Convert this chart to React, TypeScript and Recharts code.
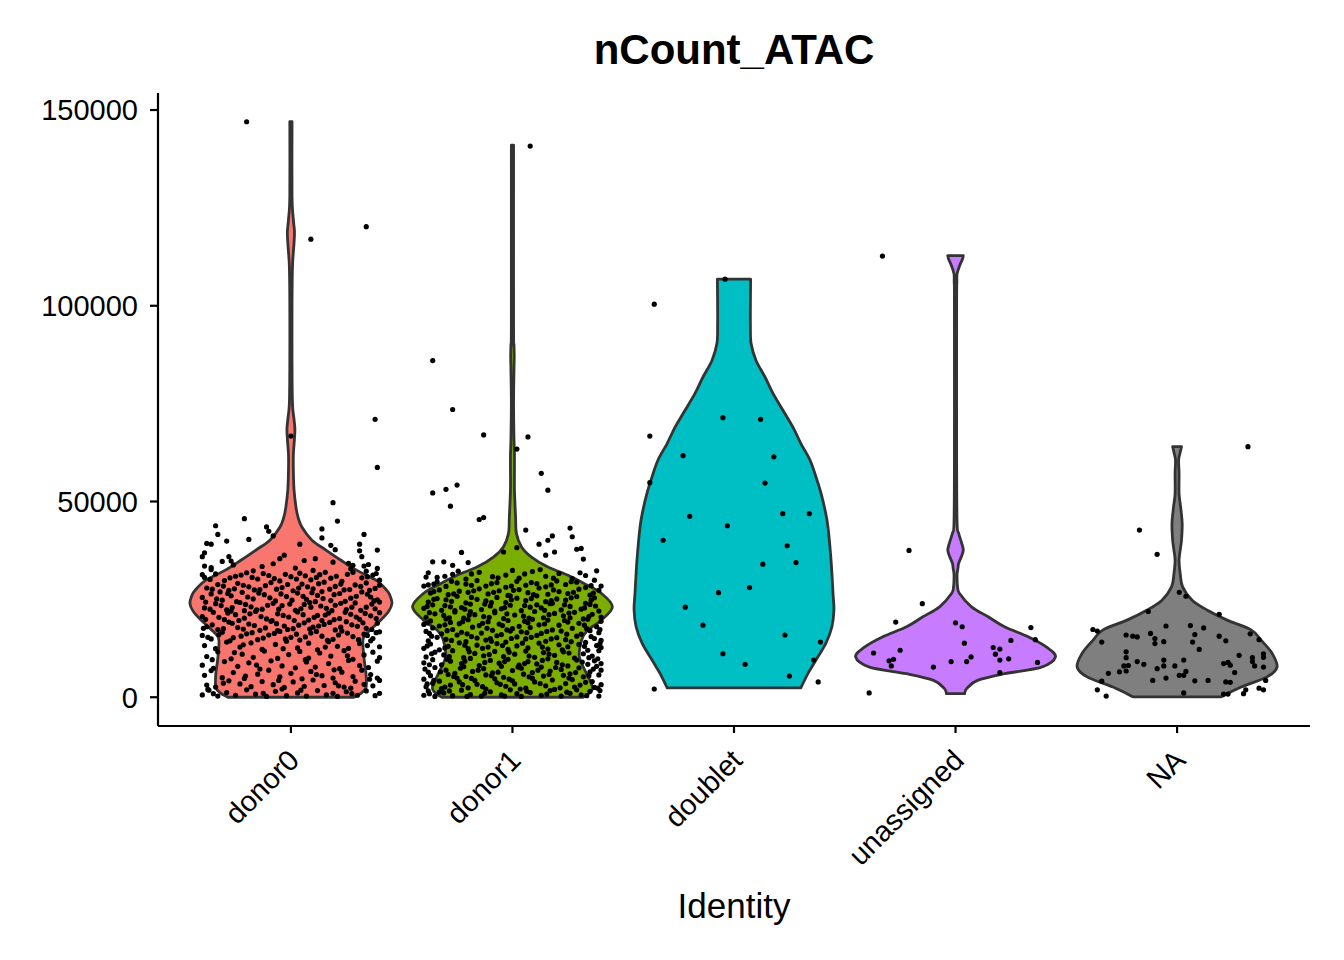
import React from "react";
import { ScatterChart, Scatter, XAxis, YAxis } from "recharts";

const identities = ["donor0", "donor1", "doublet", "unassigned", "NA"];
const fills = ["#F8766D", "#7CAE00", "#00BFC4", "#C77CFF", "#7F7F7F"];
const yTicks = [0, 50000, 100000, 150000];

// violin outlines: [nCount_ATAC in thousands, half width in category units]
const donor0Violin = [
  [0, 0.284], [1, 0.316], [2.5, 0.339], [6, 0.339], [10, 0.33], [14.6, 0.325],
  [16.4, 0.343], [19.7, 0.406], [22, 0.442], [24, 0.456], [26, 0.447], [27.3, 0.433],
  [29.9, 0.384], [32.4, 0.298], [35, 0.226], [37.6, 0.158], [40.1, 0.095], [43.4, 0.05],
  [46, 0.032], [48.5, 0.023], [53, 0.014], [58, 0.011], [62, 0.011], [66, 0.016],
  [68.5, 0.018], [71, 0.014], [75, 0.007], [85, 0.005], [100, 0.005], [110, 0.007],
  [116, 0.014], [119, 0.016], [122, 0.011], [128, 0.005], [147, 0.005],
];
const donor1Violin = [
  [0, 0.32], [1.2, 0.35], [2.6, 0.361], [6.1, 0.334], [10.3, 0.302], [14.6, 0.312],
  [17.1, 0.339], [19.7, 0.402], [23.1, 0.451], [26.5, 0.402], [29, 0.325], [31.2, 0.248],
  [33.3, 0.158], [35.8, 0.086], [38.4, 0.041], [41.8, 0.018], [46.1, 0.014], [52.9, 0.009],
  [58, 0.009], [62, 0.009], [65.7, 0.007], [75, 0.005], [84, 0.007], [87, 0.008],
  [90, 0.007], [95, 0.005], [141, 0.005],
];
const doubletViolin = [
  [2.4, 0.302], [6.1, 0.334], [9.5, 0.37], [13.8, 0.415], [18, 0.442], [22.3, 0.451],
  [26.5, 0.447], [35, 0.438], [43.5, 0.424], [47.8, 0.411], [52.1, 0.393], [56.3, 0.37],
  [60.6, 0.343], [64.8, 0.302], [69, 0.266], [73.3, 0.221], [77.6, 0.176], [81.8, 0.14],
  [86.1, 0.099], [90.4, 0.077], [95, 0.074], [100, 0.074], [106.8, 0.075],
];
const unassignedViolin = [
  [0.9, 0.041], [2.2, 0.05], [4.3, 0.099], [6, 0.221], [7.7, 0.388], [10.3, 0.451],
  [12.8, 0.411], [15.4, 0.33], [18, 0.221], [20.5, 0.149], [23.1, 0.072], [26.5, 0.018],
  [28.2, 0.009], [30, 0.007], [31.6, 0.007], [33, 0.011], [34.2, 0.014], [36, 0.027],
  [37.6, 0.035], [39.5, 0.027], [41.9, 0.014], [44.4, 0.007], [60, 0.005], [100, 0.005],
  [106, 0.006], [108.2, 0.007], [110.5, 0.02], [112, 0.032], [112.8, 0.035],
];
const naViolin = [
  [0.1, 0.199], [2.6, 0.289], [5.2, 0.406], [7.7, 0.451], [11.2, 0.429], [14.6, 0.379],
  [17.2, 0.334], [19.7, 0.226], [22.3, 0.135], [24.8, 0.068], [28.2, 0.025], [31.6, 0.014],
  [35, 0.009], [37.5, 0.014], [40.1, 0.02], [44.4, 0.023], [48.6, 0.016], [52, 0.009],
  [57.2, 0.009], [60.6, 0.007], [62.5, 0.014], [64, 0.02],
];

// cells: [horizontal jitter in category units, nCount_ATAC in thousands]
const donor0Cells = [
  [-0.2, 147.0], [0.09, 117.0], [0.34, 120.2], [0.38, 71.0], [0.0, 66.7], [0.39, 58.7],
  [0.19, 49.7], [0.21, 45.0], [-0.21, 45.6], [-0.34, 43.8], [-0.33, 41.6], [-0.29, 39.9],
  [-0.19, 40.3], [-0.11, 43.5], [-0.1, 42.4], [-0.08, 41.2], [0.14, 43.0], [0.14, 40.7],
  [0.18, 38.8], [0.2, 37.7], [0.04, 39.1], [0.33, 41.6], [0.31, 39.1], [0.39, 37.6],
  [0.31, 37.4], [0.32, 35.9], [0.39, 32.9], [-0.38, 39.3], [-0.36, 39.1], [-0.4, 35.9],
  [-0.39, 36.9], [-0.28, 35.9], [-0.27, 34.8], [-0.39, 33.5], [-0.36, 33.1], [-0.4, 31.3],
  [-0.03, 36.3], [-0.05, 35.4], [0.11, 35.4], [0.26, 34.2], [0.28, 33.7], [0.33, 33.5],
  [0.34, 32.2],
  [-0.4, 0.6], [-0.37, 1.8], [-0.33, 0.3], [-0.29, 1.2], [-0.25, 0.5], [-0.2, 1.9],
  [-0.16, 0.8], [-0.11, 0.2], [-0.07, 1.5], [-0.02, 0.4], [0.03, 1.1], [0.07, 0.3],
  [0.12, 1.7], [0.16, 0.6], [0.21, 0.2], [0.25, 1.4], [0.3, 0.5], [0.34, 1.6],
  [0.38, 0.4], [0.4, 1.0], [-0.35, 0.9], [0.19, 1.0], [-0.04, 2.1], [0.27, 2.3],
  [-0.38, 3.1], [-0.34, 2.6], [-0.28, 4.2], [-0.23, 3.4], [-0.18, 2.7], [-0.13, 4.0],
  [-0.08, 3.2], [-0.03, 2.5], [0.01, 3.9], [0.06, 2.8], [0.1, 4.4], [0.15, 3.0],
  [0.2, 3.7], [0.24, 2.6], [0.29, 4.1], [0.33, 3.3], [0.37, 2.9], [0.4, 4.3],
  [-0.39, 5.6], [-0.36, 6.8], [-0.31, 5.0], [-0.26, 6.3], [-0.21, 4.8], [-0.15, 5.9],
  [-0.1, 6.9], [-0.05, 5.2], [0.0, 6.1], [0.05, 4.7], [0.09, 6.6], [0.14, 5.5],
  [0.19, 4.9], [0.23, 6.4], [0.28, 5.3], [0.32, 6.9], [0.36, 5.8], [0.39, 4.9],
  [-0.4, 8.2], [-0.35, 7.4], [-0.3, 9.1], [-0.24, 7.9], [-0.19, 8.8], [-0.14, 7.2],
  [-0.09, 9.3], [-0.04, 8.0], [0.02, 7.5], [0.07, 9.0], [0.11, 7.7], [0.17, 8.6],
  [0.22, 7.3], [0.26, 9.4], [0.31, 8.1], [0.35, 7.6], [0.39, 9.2],
  [-0.38, 10.4], [-0.33, 11.6], [-0.27, 9.8], [-0.22, 11.0], [-0.17, 10.2], [-0.12, 11.8],
  [-0.06, 9.9], [-0.01, 10.9], [0.04, 11.7], [0.08, 10.0], [0.13, 11.3], [0.18, 10.5],
  [0.24, 11.9], [0.28, 9.7], [0.33, 10.8], [0.37, 11.5], [0.4, 10.1],
  [-0.39, 13.2], [-0.34, 12.4], [-0.29, 14.1], [-0.23, 12.8], [-0.18, 13.9], [-0.13, 12.2],
  [-0.07, 13.5], [-0.02, 14.3], [0.03, 12.6], [0.08, 13.8], [0.12, 12.1], [0.17, 14.2],
  [0.21, 13.0], [0.26, 12.5], [0.31, 13.7], [0.36, 14.4], [0.4, 12.9],
  [-0.4, 15.8], [-0.36, 14.9], [-0.31, 16.6], [-0.26, 15.2], [-0.2, 16.2], [-0.15, 14.7],
  [-0.1, 15.9], [-0.05, 16.8], [0.0, 15.3], [0.04, 14.6], [0.09, 16.4], [0.14, 15.6],
  [0.19, 14.8], [0.23, 16.9], [0.28, 15.5], [0.33, 16.1], [0.37, 15.0], [0.4, 16.7],
  [-0.38, 18.0], [-0.33, 17.3], [-0.28, 19.2], [-0.24, 17.8], [-0.19, 18.7], [-0.14, 17.1],
  [-0.09, 19.4], [-0.03, 18.2], [0.01, 17.5], [0.06, 19.0], [0.1, 17.9], [0.15, 18.6],
  [0.2, 17.2], [0.25, 19.3], [0.3, 18.1], [0.34, 17.6], [0.39, 18.9], [-0.06, 17.0],
  [-0.4, 20.6], [-0.35, 21.7], [-0.3, 19.8], [-0.25, 21.1], [-0.21, 20.2], [-0.16, 21.9],
  [-0.11, 20.0], [-0.06, 21.3], [-0.01, 20.5], [0.03, 21.8], [0.08, 19.7], [0.12, 20.9],
  [0.17, 21.5], [0.22, 20.1], [0.27, 21.2], [0.31, 19.9], [0.36, 20.8], [0.4, 21.6],
  [0.14, 19.6], [-0.27, 22.0],
  [-0.39, 22.8], [-0.34, 23.9], [-0.29, 22.3], [-0.23, 24.2], [-0.18, 23.1], [-0.13, 22.5],
  [-0.08, 24.0], [-0.04, 23.4], [0.02, 22.2], [0.06, 23.7], [0.11, 24.4], [0.16, 22.7],
  [0.2, 23.5], [0.25, 22.4], [0.29, 24.1], [0.34, 23.0], [0.38, 22.6], [0.4, 24.3],
  [-0.21, 22.1], [0.09, 23.0],
  [-0.4, 25.5], [-0.36, 26.4], [-0.31, 24.8], [-0.27, 25.9], [-0.22, 26.8], [-0.17, 25.1],
  [-0.12, 26.2], [-0.07, 24.6], [-0.02, 25.7], [0.03, 26.6], [0.07, 25.0], [0.12, 26.0],
  [0.18, 24.7], [0.22, 26.5], [0.27, 25.3], [0.32, 26.9], [0.36, 25.6], [0.39, 24.9],
  [-0.32, 26.9], [0.14, 27.0],
  [-0.38, 27.9], [-0.33, 28.8], [-0.28, 27.3], [-0.24, 29.1], [-0.19, 28.2], [-0.14, 27.5],
  [-0.09, 29.3], [-0.04, 28.0], [0.01, 27.2], [0.05, 28.9], [0.1, 27.7], [0.15, 29.4],
  [0.2, 28.3], [0.24, 27.4], [0.29, 28.7], [0.34, 29.2], [0.38, 27.8], [0.4, 28.6],
  [-0.39, 30.6], [-0.34, 31.5], [-0.3, 29.8], [-0.25, 30.9], [-0.2, 31.8], [-0.15, 30.2],
  [-0.1, 31.1], [-0.05, 29.7], [0.0, 30.8], [0.04, 31.7], [0.09, 30.0], [0.13, 31.3],
  [0.18, 30.4], [0.23, 29.6], [0.28, 31.9], [0.32, 30.5], [0.37, 31.2], [0.4, 29.9],
  [-0.36, 32.6], [-0.26, 33.8], [-0.17, 32.3], [-0.08, 34.1], [0.02, 33.0], [0.1, 32.4],
  [0.19, 34.5], [0.27, 32.8], [0.35, 33.9], [-0.31, 34.7], [0.06, 34.9], [-0.13, 33.4],
  [-0.375, 15.3], [-0.325, 16.0], [-0.275, 14.4], [-0.225, 15.6], [-0.175, 16.5], [-0.125, 15.1],
  [-0.075, 16.3], [-0.025, 14.9], [0.025, 16.1], [0.065, 15.4], [0.115, 16.8], [0.165, 14.5],
  [0.215, 15.9], [0.255, 16.4], [0.305, 14.7], [0.345, 15.8], [0.385, 16.5],
  [-0.395, 17.6], [-0.355, 18.5], [-0.305, 17.5], [-0.265, 18.9], [-0.215, 17.4], [-0.165, 18.3],
  [-0.115, 17.7], [-0.065, 18.8], [-0.015, 17.3], [0.035, 18.4], [0.085, 17.4], [0.125, 18.2],
  [0.175, 19.1], [0.225, 17.9], [0.275, 18.5], [0.325, 19.0], [0.365, 17.3],
  [-0.385, 19.9], [-0.325, 20.4], [-0.285, 21.5], [-0.235, 19.6], [-0.185, 21.3], [-0.135, 20.6],
  [-0.085, 19.6], [-0.035, 20.9], [0.015, 19.6], [0.055, 21.1], [0.105, 20.4], [0.155, 21.0],
  [0.195, 19.8], [0.245, 21.7], [0.295, 20.5], [0.335, 21.4], [0.385, 20.1],
  [-0.365, 22.5], [-0.315, 23.4], [-0.265, 22.9], [-0.205, 23.7], [-0.155, 22.3], [-0.105, 23.5],
  [-0.055, 22.5], [-0.005, 23.8], [0.045, 22.6], [0.085, 24.2], [0.135, 23.3], [0.185, 22.1],
  [0.225, 24.0], [0.275, 23.0], [0.315, 22.2], [0.365, 23.8],
  [-0.385, 24.3], [-0.335, 25.1], [-0.285, 26.5], [-0.245, 24.4], [-0.195, 25.6], [-0.145, 26.6],
  [-0.095, 25.4], [-0.045, 26.4], [0.005, 24.8], [0.055, 25.8], [0.095, 26.7], [0.145, 25.2],
  [0.195, 26.2], [0.245, 24.5], [0.295, 25.8], [0.345, 26.3], [0.375, 24.6],
  [-0.355, 27.6], [-0.305, 28.4], [-0.255, 27.7], [-0.215, 28.6], [-0.165, 27.4], [-0.115, 28.5],
  [-0.065, 27.6], [-0.015, 28.8], [0.035, 27.9], [0.075, 28.2], [0.125, 29.0], [0.175, 27.6],
  [0.225, 28.9], [0.265, 27.5], [0.315, 28.3], [0.355, 27.3],
  [-0.365, 30.1], [-0.275, 30.5], [-0.225, 31.2], [-0.175, 30.6], [-0.125, 31.6], [-0.075, 30.3],
  [-0.025, 31.4], [0.025, 30.2], [0.065, 31.0], [0.115, 30.6], [0.155, 31.9], [0.205, 30.9],
  [0.255, 31.4], [0.345, 30.8], [0.385, 31.6],
  [-0.375, 2.0], [-0.305, 3.6], [-0.205, 5.4], [-0.125, 1.0], [-0.055, 4.3], [0.045, 1.8],
  [0.115, 5.8], [0.215, 2.9], [0.275, 0.9], [0.355, 4.6],
  [-0.355, 9.6], [-0.255, 11.4], [-0.155, 8.2], [-0.035, 12.4], [0.065, 9.6], [0.155, 12.8],
  [0.255, 10.6], [0.345, 13.2], [-0.215, 13.4], [0.195, 7.0],
];
const donor1Cells = [
  [0.08, 140.8], [-0.36, 86.0], [-0.27, 73.5], [-0.13, 67.0], [0.07, 66.5], [0.02, 63.4],
  [0.13, 57.2], [0.16, 52.9], [-0.36, 52.2], [-0.3, 53.1], [-0.25, 54.2], [-0.28, 48.8],
  [-0.15, 45.4], [-0.13, 45.9], [0.06, 42.7], [0.18, 41.2], [0.16, 40.1], [0.12, 39.1],
  [0.26, 43.2], [0.27, 41.0], [0.29, 37.8], [0.31, 38.0], [0.32, 35.3], [-0.23, 37.0],
  [-0.2, 34.4], [-0.36, 34.6], [-0.31, 34.6], [-0.27, 33.7], [0.19, 37.1], [0.15, 36.3],
  [0.02, 38.2], [-0.04, 37.1], [0.4, 28.4], [-0.39, 30.7], [-0.4, 28.4],
  [-0.4, 0.5], [-0.38, 1.6], [-0.35, 0.2], [-0.31, 1.1], [-0.27, 0.4], [-0.23, 1.8],
  [-0.19, 0.7], [-0.14, 0.3], [-0.1, 1.4], [-0.05, 0.6], [-0.01, 1.9], [0.04, 0.2],
  [0.08, 1.2], [0.13, 0.5], [0.17, 1.7], [0.22, 0.3], [0.26, 1.0], [0.31, 0.6],
  [0.35, 1.5], [0.39, 0.3], [-0.33, 1.3], [0.02, 0.9], [0.29, 1.9],
  [-0.39, 2.7], [-0.36, 3.6], [-0.32, 2.2], [-0.28, 3.1], [-0.24, 3.9], [-0.2, 2.4],
  [-0.16, 3.3], [-0.12, 2.1], [-0.07, 3.7], [-0.03, 2.8], [0.01, 3.4], [0.06, 2.3],
  [0.1, 3.9], [0.15, 2.9], [0.19, 2.0], [0.24, 3.5], [0.28, 2.6], [0.33, 3.8],
  [0.37, 2.5], [0.4, 3.2],
  [-0.4, 4.6], [-0.37, 5.5], [-0.33, 4.1], [-0.29, 5.8], [-0.25, 4.9], [-0.21, 5.3],
  [-0.17, 4.3], [-0.12, 5.7], [-0.08, 4.7], [-0.04, 5.1], [0.0, 4.2], [0.05, 5.9],
  [0.09, 4.8], [0.14, 5.4], [0.18, 4.4], [0.23, 5.6], [0.27, 4.5], [0.32, 5.2],
  [0.36, 4.0], [0.39, 5.7],
  [-0.38, 6.4], [-0.35, 7.6], [-0.3, 6.9], [-0.26, 6.1], [-0.22, 7.8], [-0.18, 6.6],
  [-0.13, 7.3], [-0.09, 6.2], [-0.05, 7.9], [0.0, 6.8], [0.04, 7.4], [0.09, 6.3],
  [0.13, 7.7], [0.17, 6.7], [0.22, 7.1], [0.26, 6.0], [0.3, 7.5], [0.35, 6.5],
  [0.38, 7.9], [0.4, 6.9],
  [-0.4, 8.8], [-0.36, 9.6], [-0.32, 8.3], [-0.28, 9.2], [-0.23, 8.6], [-0.19, 9.9],
  [-0.15, 8.1], [-0.1, 9.4], [-0.06, 8.7], [-0.02, 9.7], [0.03, 8.2], [0.07, 9.1],
  [0.11, 8.5], [0.16, 9.8], [0.2, 8.9], [0.25, 8.0], [0.29, 9.5], [0.34, 8.4],
  [0.37, 9.3], [0.4, 8.6],
  [-0.39, 10.3], [-0.35, 11.5], [-0.31, 10.8], [-0.27, 11.9], [-0.22, 10.1], [-0.17, 11.2],
  [-0.13, 10.6], [-0.08, 11.7], [-0.04, 10.4], [0.01, 11.0], [0.06, 11.8], [0.1, 10.2],
  [0.14, 11.4], [0.19, 10.7], [0.23, 11.6], [0.28, 10.0], [0.32, 11.1], [0.36, 10.5],
  [0.39, 11.9],
  [-0.4, 12.5], [-0.37, 13.6], [-0.33, 12.1], [-0.29, 13.0], [-0.24, 13.9], [-0.2, 12.4],
  [-0.16, 13.3], [-0.11, 12.8], [-0.07, 13.7], [-0.02, 12.2], [0.02, 13.1], [0.07, 12.6],
  [0.12, 13.8], [0.16, 12.3], [0.21, 13.4], [0.25, 12.9], [0.3, 13.5], [0.34, 12.0],
  [0.38, 13.2], [0.4, 12.7],
  [-0.38, 14.4], [-0.34, 15.3], [-0.3, 14.8], [-0.25, 15.9], [-0.21, 14.2], [-0.16, 15.1],
  [-0.12, 14.6], [-0.07, 15.7], [-0.03, 14.1], [0.02, 15.4], [0.06, 14.9], [0.11, 15.8],
  [0.15, 14.3], [0.2, 15.2], [0.24, 14.7], [0.29, 15.6], [0.33, 14.0], [0.37, 15.0],
  [0.4, 14.5], [-0.1, 15.0],
  [-0.39, 16.8], [-0.36, 17.7], [-0.32, 16.2], [-0.27, 17.3], [-0.23, 16.6], [-0.18, 17.9],
  [-0.14, 16.4], [-0.09, 17.1], [-0.05, 16.0], [0.0, 17.5], [0.04, 16.7], [0.08, 17.8],
  [0.13, 16.3], [0.18, 17.2], [0.22, 16.9], [0.27, 17.6], [0.31, 16.1], [0.35, 17.0],
  [0.39, 16.5], [-0.01, 16.9],
  [-0.4, 18.6], [-0.37, 19.5], [-0.33, 18.2], [-0.28, 19.1], [-0.24, 18.8], [-0.2, 19.8],
  [-0.15, 18.3], [-0.11, 19.3], [-0.06, 18.7], [-0.02, 19.6], [0.03, 18.1], [0.07, 19.0],
  [0.12, 18.5], [0.16, 19.7], [0.21, 18.4], [0.25, 19.2], [0.3, 18.9], [0.34, 19.9],
  [0.38, 18.0], [0.4, 19.4], [-0.3, 20.0], [0.09, 19.9],
  [-0.39, 20.4], [-0.35, 21.3], [-0.31, 20.9], [-0.26, 21.8], [-0.22, 20.2], [-0.17, 21.1],
  [-0.13, 20.6], [-0.08, 21.6], [-0.04, 20.1], [0.01, 21.0], [0.05, 20.7], [0.1, 21.9],
  [0.14, 20.3], [0.19, 21.4], [0.23, 20.8], [0.28, 21.7], [0.32, 20.0], [0.36, 21.2],
  [0.4, 20.5], [-0.19, 21.9], [0.26, 20.3],
  [-0.4, 22.7], [-0.36, 23.6], [-0.32, 22.2], [-0.28, 23.1], [-0.23, 22.9], [-0.19, 23.8],
  [-0.14, 22.4], [-0.1, 23.3], [-0.05, 22.6], [-0.01, 23.5], [0.04, 22.1], [0.08, 23.0],
  [0.13, 22.8], [0.17, 23.9], [0.22, 22.3], [0.26, 23.2], [0.31, 22.5], [0.35, 23.7],
  [0.39, 22.0], [-0.26, 22.1], [0.11, 23.6], [-0.08, 22.0],
  [-0.38, 24.3], [-0.34, 25.2], [-0.3, 24.9], [-0.25, 25.8], [-0.21, 24.1], [-0.16, 25.0],
  [-0.12, 24.6], [-0.07, 25.5], [-0.03, 24.2], [0.02, 25.3], [0.06, 24.7], [0.11, 25.9],
  [0.15, 24.4], [0.2, 25.1], [0.24, 24.8], [0.29, 25.7], [0.33, 24.0], [0.37, 25.4],
  [-0.01, 25.9], [0.18, 24.0],
  [-0.37, 26.6], [-0.33, 27.4], [-0.29, 26.2], [-0.24, 27.1], [-0.2, 26.8], [-0.15, 27.7],
  [-0.11, 26.4], [-0.06, 27.2], [-0.02, 26.0], [0.03, 27.5], [0.07, 26.7], [0.12, 27.9],
  [0.16, 26.3], [0.21, 27.0], [0.25, 26.5], [0.3, 27.6], [0.35, 26.1], [0.39, 27.3],
  [-0.38, 28.7], [-0.34, 29.5], [-0.3, 28.3], [-0.25, 29.2], [-0.21, 28.9], [-0.16, 29.8],
  [-0.12, 28.4], [-0.07, 29.3], [-0.03, 28.1], [0.02, 29.6], [0.06, 28.6], [0.11, 29.0],
  [0.15, 28.2], [0.2, 29.7], [0.24, 28.8], [0.29, 29.4], [0.33, 28.0], [0.37, 29.9],
  [-0.34, 30.6], [-0.27, 31.4], [-0.21, 30.2], [-0.15, 31.9], [-0.09, 30.8], [-0.03, 31.2],
  [0.03, 30.4], [0.09, 32.1], [0.15, 30.9], [0.21, 31.6], [0.27, 30.3], [0.33, 31.1],
  [0.38, 32.3], [-0.38, 31.8], [0.0, 32.4],
  [-0.375, 0.9], [-0.285, 1.6], [-0.205, 0.2], [-0.125, 1.0], [-0.035, 0.3], [0.065, 1.5],
  [0.155, 0.8], [0.245, 1.3], [0.335, 0.4], [0.395, 1.7],
  [-0.385, 3.4], [-0.305, 2.6], [-0.225, 3.2], [-0.135, 2.7], [-0.055, 3.3], [0.035, 2.1],
  [0.125, 3.5], [0.215, 2.4], [0.305, 3.1], [0.385, 2.3],
  [-0.355, 4.3], [-0.265, 5.3], [-0.185, 4.8], [-0.095, 5.5], [-0.015, 4.6], [0.075, 5.2],
  [0.165, 5.8], [0.255, 4.9], [0.345, 5.5],
  [-0.395, 7.2], [-0.325, 6.5], [-0.235, 7.4], [-0.155, 6.9], [-0.065, 6.4], [0.025, 7.7],
  [0.115, 6.9], [0.195, 7.6], [0.285, 6.3], [0.365, 7.2],
  [-0.375, 8.3], [-0.295, 9.7], [-0.215, 9.2], [-0.125, 8.9], [-0.035, 9.1], [0.055, 8.6],
  [0.135, 9.4], [0.225, 8.3], [0.315, 9.0], [0.385, 9.8],
  [-0.365, 11.1], [-0.285, 10.4], [-0.195, 11.6], [-0.105, 10.9], [-0.015, 11.5], [0.075, 10.5],
  [0.165, 11.0], [0.255, 11.3], [0.345, 10.1],
  [-0.385, 13.1], [-0.305, 12.6], [-0.215, 13.3], [-0.135, 12.5], [-0.045, 13.2], [0.045, 13.8],
  [0.135, 12.8], [0.225, 12.1], [0.325, 13.0], [0.395, 13.7],
  [-0.365, 15.6], [-0.275, 14.5], [-0.185, 15.5], [-0.095, 14.3], [-0.005, 15.0], [0.085, 15.3],
  [0.175, 14.9], [0.265, 14.2], [0.355, 15.5],
  [-0.375, 16.3], [-0.295, 17.0], [-0.205, 16.2], [-0.115, 17.6], [-0.025, 17.2], [0.065, 16.5],
  [0.155, 16.8], [0.245, 16.1], [0.335, 17.5], [0.395, 17.3],
  [-0.385, 19.0], [-0.305, 18.5], [-0.225, 19.3], [-0.135, 18.9], [-0.045, 18.3], [0.055, 19.4],
  [0.145, 18.7], [0.235, 19.6], [0.325, 18.4],
  [-0.375, 21.6], [-0.285, 20.3], [-0.195, 21.0], [-0.105, 20.4], [-0.025, 21.3], [0.075, 20.2],
  [0.165, 21.1], [0.255, 21.5], [0.345, 20.6],
  [-0.385, 23.2], [-0.305, 23.4], [-0.215, 22.5], [-0.125, 23.8], [-0.035, 22.9], [0.055, 23.4],
  [0.145, 22.2], [0.235, 23.6], [0.325, 22.8], [0.375, 23.3],
  [-0.355, 25.0], [-0.275, 24.5], [-0.185, 25.5], [-0.095, 24.2], [-0.005, 24.9], [0.085, 25.2],
  [0.175, 24.7], [0.265, 25.4], [0.355, 24.8],
  [-0.355, 27.0], [-0.265, 26.4], [-0.175, 27.2], [-0.085, 26.8], [0.005, 27.3], [0.095, 26.2],
  [0.185, 27.4], [0.275, 26.8], [0.365, 26.6],
  [-0.355, 28.9], [-0.275, 29.6], [-0.185, 28.6], [-0.095, 29.0], [-0.005, 28.4], [0.085, 29.3],
  [0.175, 28.7], [0.265, 29.5], [0.355, 28.5],
  [-0.305, 30.9], [-0.185, 31.5], [-0.065, 30.5], [0.055, 31.5], [0.185, 30.4], [0.305, 31.8],
  [-0.245, 32.2], [0.125, 32.6],
];
const doubletCells = [
  [-0.04, 106.8], [-0.36, 100.4], [-0.05, 71.4], [0.12, 71.0], [-0.38, 66.7], [-0.23, 61.7],
  [0.18, 61.4], [-0.38, 54.8], [0.14, 54.7], [-0.2, 46.2], [0.22, 46.9], [0.34, 46.9],
  [-0.03, 43.8], [-0.32, 40.1], [0.24, 38.7], [0.28, 34.4], [0.13, 34.0], [0.07, 28.0],
  [-0.07, 26.7], [-0.22, 23.0], [-0.14, 18.4], [0.23, 15.9], [0.39, 14.1], [-0.05, 11.1],
  [0.05, 8.4], [0.36, 9.5], [0.25, 5.4], [0.38, 3.9], [-0.36, 2.1],
];
const unassignedCells = [
  [-0.33, 112.7], [-0.21, 37.5], [-0.15, 23.9], [-0.27, 19.2], [0.0, 19.0], [0.03, 18.0],
  [0.34, 17.8], [0.36, 14.7], [0.25, 14.5], [0.04, 13.8], [-0.25, 12.0], [-0.37, 11.3],
  [0.17, 12.7], [0.2, 12.3], [0.18, 11.0], [0.07, 10.3], [0.2, 9.5], [0.24, 9.8],
  [-0.28, 9.7], [-0.3, 9.3], [-0.29, 8.0], [-0.02, 9.1], [0.05, 9.1], [0.37, 8.9],
  [-0.1, 7.7], [0.2, 6.3], [-0.39, 1.1],
];
const naCells = [
  [0.32, 64.0], [-0.17, 42.7], [-0.09, 36.5], [0.01, 26.8], [0.04, 25.8], [-0.13, 21.9],
  [0.19, 21.2], [-0.05, 18.2], [0.06, 18.3], [0.12, 17.7], [-0.38, 17.3], [-0.36, 16.9],
  [-0.23, 15.9], [-0.2, 15.6], [-0.18, 15.4], [-0.12, 16.3], [-0.1, 15.0], [-0.1, 13.7],
  [-0.06, 14.2], [0.08, 16.0], [0.07, 14.1], [0.19, 15.6], [0.22, 14.4], [0.33, 16.2],
  [0.37, 14.7], [-0.34, 14.1], [0.1, 12.2], [-0.23, 11.6], [-0.23, 10.1], [0.28, 10.7],
  [0.34, 10.1], [0.39, 11.1], [0.39, 10.2], [-0.06, 9.5], [-0.18, 9.1], [-0.15, 8.4],
  [0.03, 9.5], [0.34, 9.1], [0.35, 8.0], [0.21, 8.6], [0.23, 8.9], [0.24, 8.2],
  [0.39, 7.7], [-0.24, 8.0], [-0.22, 8.1], [-0.06, 8.0], [-0.01, 8.0], [-0.09, 7.3],
  [0.04, 6.6], [0.01, 5.6], [0.03, 5.6], [-0.05, 4.9], [-0.23, 6.7], [-0.26, 6.5],
  [-0.31, 6.1], [-0.34, 4.1], [-0.11, 4.3], [0.08, 4.2], [0.14, 4.3], [0.26, 6.3],
  [0.22, 3.9], [0.24, 3.8], [0.4, 4.3], [-0.36, 1.9], [-0.32, 0.3], [0.03, 1.1],
  [0.21, 0.8], [0.23, 0.8], [0.3, 0.9], [0.31, 1.9], [0.37, 2.3], [0.39, 1.9],
];

const violins = [donor0Violin, donor1Violin, doubletViolin, unassignedViolin, naViolin];
const cellSets = [donor0Cells, donor1Cells, doubletCells, unassignedCells, naCells];

function outline(pos: number, profile: number[][]) {
  const left = profile.map(([v, w]) => ({ x: pos - w, y: v * 1000 }));
  const right = [...profile].reverse().map(([v, w]) => ({ x: pos + w, y: v * 1000 }));
  return [...left, ...right];
}

function jittered(pos: number, list: number[][]) {
  return list.map(([j, v]) => ({ x: pos + j, y: v * 1000 }));
}

type Pt = { x: number; y: number };

// catmull-rom through one side of the outline
function smoothSide(pts: Pt[]) {
  let d = "";
  for (let i = 0; i < pts.length - 1; i++) {
    const p0 = pts[Math.max(i - 1, 0)];
    const p1 = pts[i];
    const p2 = pts[i + 1];
    const p3 = pts[Math.min(i + 2, pts.length - 1)];
    const c1x = p1.x + (p2.x - p0.x) / 6;
    const c1y = p1.y + (p2.y - p0.y) / 6;
    const c2x = p2.x - (p3.x - p1.x) / 6;
    const c2y = p2.y - (p3.y - p1.y) / 6;
    d += ` C${c1x},${c1y} ${c2x},${c2y} ${p2.x},${p2.y}`;
  }
  return d;
}

function violinShape(fill: string) {
  return (props: any) => {
    const pts: Pt[] = props.points || [];
    if (!pts.length) return <g />;
    const n = pts.length / 2;
    const left = pts.slice(0, n);
    const right = pts.slice(n);
    const d =
      `M${left[0].x},${left[0].y}` +
      smoothSide(left) +
      ` L${right[0].x},${right[0].y}` +
      smoothSide(right) +
      " Z";
    return (
      <path d={d} fill={fill} stroke="#333333" strokeWidth={2.8} strokeLinejoin="round" />
    );
  };
}

const noMark = () => <g />;
const dot = (props: any) => <circle cx={props.cx} cy={props.cy} r={2.6} fill="#000" />;

function IdentityTick(props: any) {
  const { x, y, payload } = props;
  const tx = x + 10;
  const ty = y + 27;
  return (
    <text
      x={tx}
      y={ty}
      transform={`rotate(-45 ${tx} ${ty})`}
      textAnchor="end"
      fontSize={29}
      fill="#000"
    >
      {identities[payload.value - 1]}
    </text>
  );
}

export default function App() {
  return (
    <div
      style={{
        position: "absolute",
        left: 0,
        top: 0,
        width: 1344,
        height: 960,
        background: "#fff",
        fontFamily: "'Liberation Sans', Arial, Helvetica, sans-serif",
      }}
    >
      <div
        style={{
          position: "absolute",
          left: 158,
          width: 1152,
          top: 29,
          textAlign: "center",
          fontSize: 42,
          lineHeight: "42px",
          fontWeight: "bold",
          color: "#000",
        }}
      >
        nCount_ATAC
      </div>
      <ScatterChart width={1344} height={960} margin={{ top: 93, right: 34, bottom: 0, left: 0 }}>
        <XAxis
          type="number"
          dataKey="x"
          domain={[0.4, 5.6]}
          ticks={[1, 2, 3, 4, 5]}
          interval={0}
          height={234}
          axisLine={{ stroke: "#000", strokeWidth: 2.2 }}
          tickLine={{ stroke: "#000", strokeWidth: 2.2 }}
          tickSize={7}
          tick={<IdentityTick />}
          label={{ value: "Identity", position: "insideBottom", offset: 42, fontSize: 35, fill: "#000" }}
        />
        <YAxis
          type="number"
          dataKey="y"
          domain={[-7350, 154350]}
          ticks={yTicks}
          interval={0}
          width={158}
          axisLine={{ stroke: "#000", strokeWidth: 2.2 }}
          tickLine={{ stroke: "#000", strokeWidth: 2.2 }}
          tickSize={8}
          tickMargin={12}
          tick={{ fill: "#000", fontSize: 29 }}
        />
        {violins.map((profile, i) => (
          <Scatter
            key={"v" + i}
            data={outline(i + 1, profile)}
            shape={noMark}
            line={violinShape(fills[i])}
            isAnimationActive={false}
          />
        ))}
        {cellSets.map((list, i) => (
          <Scatter
            key={"c" + i}
            data={jittered(i + 1, list)}
            shape={dot}
            isAnimationActive={false}
          />
        ))}
      </ScatterChart>
    </div>
  );
}
